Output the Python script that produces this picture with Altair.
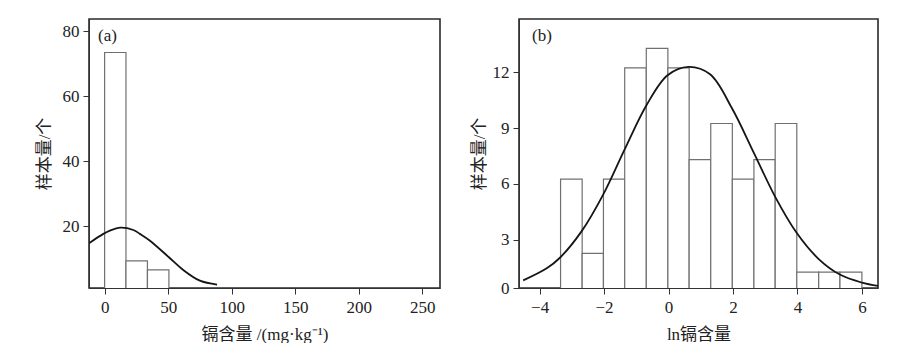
import altair as alt
import pandas as pd

# ---------------- Panel (a): raw Cd content ----------------
a_bin_start = [0.0, 16.8, 33.7]
a_bin_end = [16.8, 33.7, 50.6]
a_counts = [73.5, 9.4, 6.6]
a_curve_x = [-12.0, -1.0, 4.2, 12.1, 22.6, 27.8, 35.7, 50.6, 61.9, 75.0, 88.5]
a_curve_y = [14.9, 17.7, 18.7, 19.6, 18.9, 17.7, 15.6, 10.5, 6.6, 3.3, 2.1]
a_x_ticks = [0, 50, 100, 150, 200, 250]
a_y_ticks = [20, 40, 60, 80]
a_x_domain = [-12.3, 264]
a_y_domain = [1.05, 83.8]

# ---------------- Panel (b): ln Cd content ----------------
b_bin_start = [-3.35, -2.68, -2.02, -1.36, -0.69, -0.02, 0.64, 1.31, 1.98, 2.65, 3.31, 3.98, 4.66, 5.32]
b_bin_end = [-2.68, -2.02, -1.36, -0.69, -0.02, 0.64, 1.31, 1.98, 2.65, 3.31, 3.98, 4.66, 5.32, 6.0]
b_counts = [6.25, 2.25, 6.25, 12.25, 13.3, 12.25, 7.3, 9.25, 6.25, 7.3, 9.25, 1.25, 1.25, 1.25]
b_curve_x = [-4.51, -3.78, -3.37, -2.70, -2.02, -1.35, -0.68, -0.03, 0.62, 1.29, 1.96, 2.64, 3.31, 3.98, 4.66, 5.33, 6.0, 6.5]
b_curve_y = [0.8, 1.45, 2.02, 3.44, 5.45, 7.9, 10.25, 11.85, 12.3, 11.9, 10.1, 7.7, 5.3, 3.35, 1.95, 1.1, 0.68, 0.5]
b_x_ticks = [-4, -2, 0, 2, 4, 6]
b_y_ticks = [0.39, 3, 6, 9, 12]
b_x_domain = [-4.64, 6.5]
b_y_domain = [0.39, 14.88]

SERIF = "Liberation Serif, Noto Sans CJK SC"

df_a = pd.DataFrame({"start": a_bin_start, "end": a_bin_end, "count": a_counts, "base": [0] * len(a_counts)})
df_a_curve = pd.DataFrame({"x": a_curve_x, "y": a_curve_y})
df_b = pd.DataFrame({"start": b_bin_start, "end": b_bin_end, "count": b_counts, "base": [0] * len(b_counts)})
df_b_curve = pd.DataFrame({"x": b_curve_x, "y": b_curve_y})


def panel(df, df_curve, xdom, ydom, xticks, yticks, xtitle, label, width, height, title_pad, label_x):
    xs = alt.Scale(domain=xdom, nice=False, zero=False)
    ys = alt.Scale(domain=ydom, nice=False, zero=False)
    bars = alt.Chart(df).mark_rect(fill="white", stroke="#707070", strokeWidth=1.2, clip=True).encode(
        x=alt.X("start:Q", scale=xs,
                axis=alt.Axis(values=xticks, title=xtitle, titlePadding=11, labelPadding=5)),
        x2="end:Q",
        y=alt.Y("count:Q", scale=ys,
                axis=alt.Axis(values=yticks, title="样本量/个", titlePadding=title_pad,
                              labelExpr="datum.value < 1 ? '0' : datum.label")),
        y2="base:Q",
    )
    curve = alt.Chart(df_curve).mark_line(color="#151515", strokeWidth=1.8, interpolate="catmull-rom", clip=True).encode(
        x=alt.X("x:Q", scale=xs),
        y=alt.Y("y:Q", scale=ys),
    )
    txt = alt.Chart(pd.DataFrame({"t": [label]})).mark_text(
        align="left", baseline="middle", font=SERIF, fontSize=17, color="#222"
    ).encode(x=alt.value(label_x), y=alt.value(17), text="t:N")
    return alt.layer(bars, curve, txt).properties(width=width, height=height)


pa = panel(df_a, df_a_curve, a_x_domain, a_y_domain, a_x_ticks, a_y_ticks,
           "镉含量 /(mg·kg⁻¹)", "(a)", 351, 269, 9, 9)
pb = panel(df_b, df_b_curve, b_x_domain, b_y_domain, b_x_ticks, b_y_ticks,
           "ln镉含量", "(b)", 359, 269, 4, 13)

chart = alt.hconcat(pa, pb, spacing=28).properties(
    padding={"left": 26, "top": 10, "right": 0, "bottom": 0}
).configure_view(
    stroke="#2a2a2a", strokeWidth=1.6
).configure_axis(
    grid=False,
    domainColor="#333",
    tickColor="#333",
    tickSize=6,
    labelPadding=4,
    labelFont=SERIF,
    labelFontSize=17,
    labelColor="#222",
    titleFont=SERIF,
    titleFontSize=17,
    titleFontWeight="normal",
    titleColor="#222",
)

chart.save("out.html", embed_options={"renderer": "svg", "actions": False})
